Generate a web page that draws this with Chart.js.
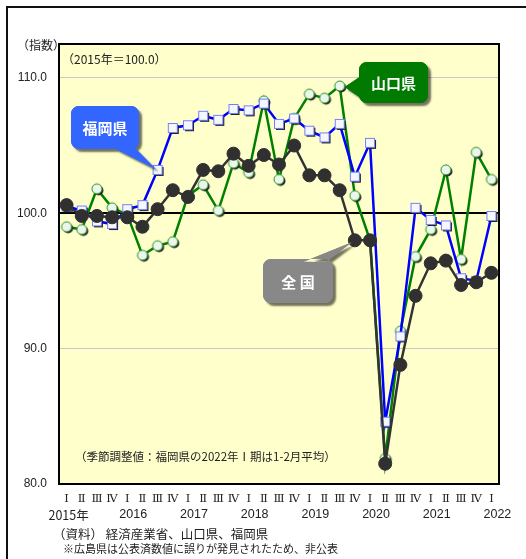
<!DOCTYPE html>
<html>
<head>
<meta charset="utf-8">
<script src="https://cdn.jsdelivr.net/npm/chart.js@4/dist/chart.umd.min.js"></script>
<style>
  html, body { margin: 0; padding: 0; background: #fff; }
  #wrap { width: 526px; height: 559px; position: relative; }
</style>
</head>
<body>
<div id="wrap"><canvas id="chart" width="526" height="559"></canvas></div>
<script>
// quarter labels on the x axis
let quarters = ['Ⅰ', 'Ⅱ', 'Ⅲ', 'Ⅳ', 'Ⅰ', 'Ⅱ', 'Ⅲ', 'Ⅳ', 'Ⅰ', 'Ⅱ', 'Ⅲ', 'Ⅳ', 'Ⅰ', 'Ⅱ', 'Ⅲ', 'Ⅳ',
                'Ⅰ', 'Ⅱ', 'Ⅲ', 'Ⅳ', 'Ⅰ', 'Ⅱ', 'Ⅲ', 'Ⅳ', 'Ⅰ', 'Ⅱ', 'Ⅲ', 'Ⅳ', 'Ⅰ']
let years = ['2015年', '', '', '', '2016', '', '', '', '2017', '', '', '', '2018', '', '', '',
             '2019', '', '', '', '2020', '', '', '', '2021', '', '', '', '2022']

// 全国
let national = [100.6, 99.8, 99.8, 99.7, 99.7, 99.0, 100.3, 101.7, 101.2, 103.2, 103.1, 104.4, 103.5, 104.3, 103.6,
                105.0, 102.8, 102.8, 101.7, 98.0, 98.0, 81.5, 88.8, 93.9, 96.3, 96.5, 94.7, 94.9, 95.6]
// 福岡県
let fukuoka = [100.5, 100.2, 99.4, 99.2, 100.3, 100.6, 103.2, 106.3, 106.5, 107.2, 106.9, 107.7, 107.6, 108.1, 106.6,
               107.0, 106.1, 105.6, 106.6, 102.7, 105.2, 84.6, 90.9, 100.4, 99.5, 99.1, 95.2, 95.0, 99.8]
// 山口県
let yamaguchi = [99.0, 98.8, 101.8, 100.4, 99.9, 96.9, 97.6, 97.9, 101.3, 102.1, 100.2, 103.7, 103.0, 108.3, 102.5,
                 107.0, 108.8, 108.5, 109.4, 101.3, 98.0, 81.9, 91.3, 96.8, 98.8, 103.2, 96.6, 104.5, 102.5]

let yTicks = [80, 90, 100, 110]

let JP = "'Noto Sans CJK JP', sans-serif"
let SANS = "'Liberation Sans', Arial, sans-serif"

// small marker images with a drop shadow
function makeMarker(kind) {
    let c = document.createElement('canvas')
    c.width = 16
    c.height = 16
    let g = c.getContext('2d')
    if (kind == 'square') {
        g.fillStyle = '#222'
        g.fillRect(5, 5, 9, 9)
        g.fillStyle = '#f6f6ff'
        g.fillRect(3.5, 3.5, 9, 9)
        g.strokeStyle = '#7080ff'
        g.lineWidth = 1
        g.strokeRect(3.5, 3.5, 9, 9)
    } else {
        g.fillStyle = '#222'
        g.beginPath(); g.arc(9.5, 9.5, 5, 0, Math.PI * 2); g.fill()
        g.fillStyle = '#eaf7ea'
        g.strokeStyle = '#2f8f2f'
        g.lineWidth = 1
        g.beginPath(); g.arc(8, 8, 5, 0, Math.PI * 2); g.fill(); g.stroke()
    }
    return c
}

function callout(ctx, box, tail, color, text) {
    let [x, y, w, h] = box
    ctx.save()
    ctx.beginPath()
    ctx.roundRect(x, y, w, h, 8)
    ctx.moveTo(tail[0][0], tail[0][1])
    ctx.lineTo(tail[1][0], tail[1][1])
    ctx.lineTo(tail[2][0], tail[2][1])
    ctx.closePath()
    ctx.shadowColor = 'rgba(0,0,0,0.55)'
    ctx.shadowOffsetX = 3
    ctx.shadowOffsetY = 3
    ctx.shadowBlur = 2
    ctx.fillStyle = color
    ctx.fill()
    ctx.shadowColor = 'transparent'
    ctx.fill()
    ctx.fillStyle = '#fff'
    ctx.font = 'bold 15px ' + JP
    ctx.textAlign = 'center'
    ctx.textBaseline = 'middle'
    ctx.fillText(text, x + w / 2, y + h / 2 + 1)
    ctx.restore()
}

let decor = {
    id: 'decor',
    beforeDraw(chart) {
        let ctx = chart.ctx
        let a = chart.chartArea
        ctx.save()
        ctx.fillStyle = '#fff'
        ctx.fillRect(0, 0, chart.width, chart.height)
        ctx.fillStyle = '#ffffcc'
        ctx.fillRect(a.left, a.top, a.right - a.left, a.bottom - a.top)
        ctx.restore()
    },
    beforeDatasetsDraw(chart) {
        let ctx = chart.ctx
        let a = chart.chartArea
        ctx.save()
        ctx.strokeStyle = '#000'
        ctx.lineWidth = 2
        ctx.strokeRect(a.left, a.top, a.right - a.left, a.bottom - a.top)
        ctx.restore()
    },
    afterDatasetsDraw(chart) {
        let ctx = chart.ctx
        let xs = chart.scales.x
        let ys = chart.scales.y

        let p = (i, v) => [xs.getPixelForValue(i), ys.getPixelForValue(v)]

        let f = p(6, fukuoka[6])
        callout(ctx, [71, 106, 68, 43], [[110, 146], [133, 146], [f[0] - 2, f[1] - 1]], '#3366ff', '福岡県')
        let y = p(18, yamaguchi[18])
        callout(ctx, [359, 62, 69, 41], [[361, 76], [361, 98], [y[0] + 5, y[1] + 1]], '#007a00', '山口県')
        let n = p(19, national[19])
        callout(ctx, [263, 259, 70, 44], [[303, 262], [326, 262], [n[0] - 3, n[1] + 2]], '#888888', '全 国')
    },
    afterDraw(chart) {
        let ctx = chart.ctx
        let xs = chart.scales.x
        let a = chart.chartArea
        ctx.save()
        ctx.fillStyle = '#222'
        ctx.textBaseline = 'middle'

        // outer frame
        ctx.strokeStyle = '#111'
        ctx.lineWidth = 2
        ctx.beginPath()
        ctx.moveTo(7, 559)
        ctx.lineTo(7, 7)
        ctx.lineTo(526, 7)
        ctx.stroke()

        ctx.textAlign = 'center'
        years.forEach((yr, i) => {
            if (!yr) return
            let x = xs.getPixelForValue(i) + (i == 0 ? 2 : 6)
            ctx.font = '12.5px ' + (i == 0 ? JP : SANS)
            ctx.fillText(yr, x, 515)
        })

        ctx.textAlign = 'left'
        ctx.font = '12px ' + JP
        ctx.fillText('（指数）', 17, 45)
        ctx.fillText('（2015年＝100.0）', a.left + 3, 59)
        ctx.font = '11.5px ' + JP
        ctx.fillText('（季節調整値：福岡県の2022年Ⅰ期は1-2月平均）', 75, 457)
        ctx.font = '12.5px ' + JP
        ctx.fillText('（資料） 経済産業省、山口県、福岡県', 53, 534)
        ctx.font = '11px ' + JP
        ctx.fillText('※広島県は公表済数値に誤りが発見されたため、非公表', 63, 549)
        ctx.restore()
    }
}

let chart = new Chart(document.getElementById('chart'), {
    type: 'line',
    data: {
        labels: quarters,
        datasets: [
            {
                label: '全国',
                data: national,
                borderColor: '#333333',
                backgroundColor: '#333333',
                borderWidth: 2.5,
                pointRadius: 6.5,
                pointBackgroundColor: '#303030',
                pointBorderColor: '#303030',
                pointBorderWidth: 1,
                tension: 0
            },
            {
                label: '福岡県',
                data: fukuoka,
                borderColor: '#0000ff',
                borderWidth: 2.5,
                pointStyle: makeMarker('square'),
                tension: 0
            },
            {
                label: '山口県',
                data: yamaguchi,
                borderColor: '#008000',
                borderWidth: 2.5,
                pointStyle: makeMarker('circle'),
                tension: 0
            }
        ]
    },
    options: {
        responsive: false,
        animation: false,
        events: [],
        layout: { padding: { left: 0, top: 44, right: 27, bottom: 0 } },
        plugins: {
            legend: { display: false },
            tooltip: { enabled: false }
        },
        scales: {
            x: {
                offset: true,
                grid: { display: false, drawTicks: false },
                border: { display: false },
                ticks: {
                    autoSkip: false,
                    maxRotation: 0,
                    padding: 8,
                    color: '#222',
                    font: { family: "'DejaVu Serif', serif", size: 11.5 }
                },
                afterFit(scale) { scale.height = 75 }
            },
            y: {
                min: 80,
                max: 112.5,
                afterBuildTicks(scale) { scale.ticks = yTicks.map(v => ({ value: v })) },
                grid: {
                    drawTicks: false,
                    color: ctx => ctx.tick.value == 100 ? '#000' : (ctx.tick.value == 80 ? 'rgba(0,0,0,0)' : '#c8c8c8'),
                    lineWidth: ctx => ctx.tick.value == 100 ? 2 : 1
                },
                border: { display: false },
                ticks: {
                    padding: 12,
                    color: '#222',
                    font: { family: SANS, size: 12 },
                    callback: v => v.toFixed(1)
                },
                afterFit(scale) { scale.width = 59 }
            }
        }
    },
    plugins: [decor]
})
</script>
</body>
</html>
